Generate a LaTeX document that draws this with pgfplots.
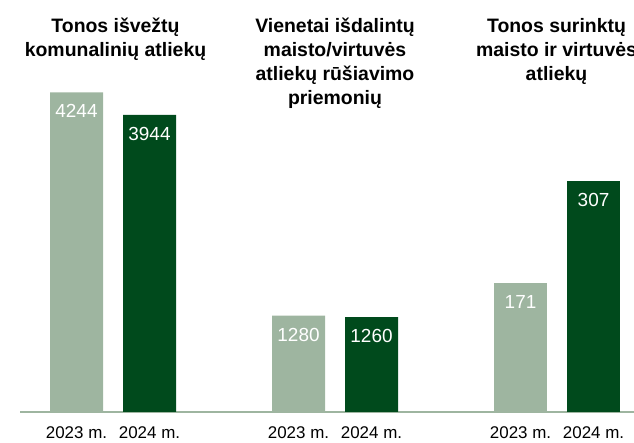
\documentclass[border=0pt]{standalone}
\usepackage{pgfplots}
\pgfplotsset{compat=1.18}
\usepackage{fontspec}
\setmainfont{Liberation Sans}
\definecolor{lg}{HTML}{9EB5A0}
\definecolor{dg}{HTML}{004A1C}
\pgfplotsset{
  barlab/.style={nodes near coords,
    every node near coord/.style={white, font=\fontsize{19}{21}\selectfont, anchor=center, yshift=-19bp}},
}
\begin{document}
\begin{tikzpicture}[x=1bp,y=1bp]
\begin{axis}[
  at={(20bp,31bp)}, anchor=south west,
  scale only axis, width=614bp, height=412bp,
  xmin=20, xmax=634, ymin=0, ymax=5471,
  axis x line=bottom, axis y line=none,
  x axis line style={-, draw=lg, line width=2bp},
  major tick length=0pt,
  xtick={76.5,149.5,298.5,371.5,520.5,593.5},
  xticklabels={2023 m.,2024 m.,2023 m.,2024 m.,2023 m.,2024 m.},
  xticklabel style={font=\fontsize{17}{19}\selectfont, anchor=base, yshift=-27bp},
  ytick=\empty,
  /pgf/number format/1000 sep={},
  /pgf/number format/assume math mode=true,
  clip=false,
]
\addplot[ybar, bar width=53, bar shift=0pt, fill=lg, draw=none, barlab]
  coordinates {(76.5,4244) (298.5,1280)};
\addplot[ybar, bar width=53, bar shift=0pt, fill=dg, draw=none, barlab]
  coordinates {(149.5,3944) (371.5,1260)};
\end{axis}
\begin{axis}[
  at={(20bp,31bp)}, anchor=south west,
  scale only axis, width=614bp, height=412bp,
  xmin=20, xmax=634, ymin=0, ymax=547.1,
  hide axis,
  /pgf/number format/1000 sep={},
  /pgf/number format/assume math mode=true,
  clip=false,
]
\addplot[ybar, bar width=53, bar shift=0pt, fill=lg, draw=none, barlab]
  coordinates {(520.5,171)};
\addplot[ybar, bar width=53, bar shift=0pt, fill=dg, draw=none, barlab]
  coordinates {(593.5,307)};
\end{axis}
\begin{scope}[every node/.style={font=\bfseries\fontsize{19.5}{24}\selectfont, align=center, anchor=north, inner sep=0pt}]
\node at (115.5,425) {Tonos išvežtų\\komunalinių atliekų};
\node at (335,425) {Vienetai išdalintų\\maisto/virtuvės\\atliekų rūšiavimo\\priemonių};
\node at (556.5,425) {Tonos surinktų\\maisto ir virtuvės\\atliekų};
\end{scope}
\pgfresetboundingbox
\path (0,0) rectangle (634,443);
\end{tikzpicture}
\end{document}
